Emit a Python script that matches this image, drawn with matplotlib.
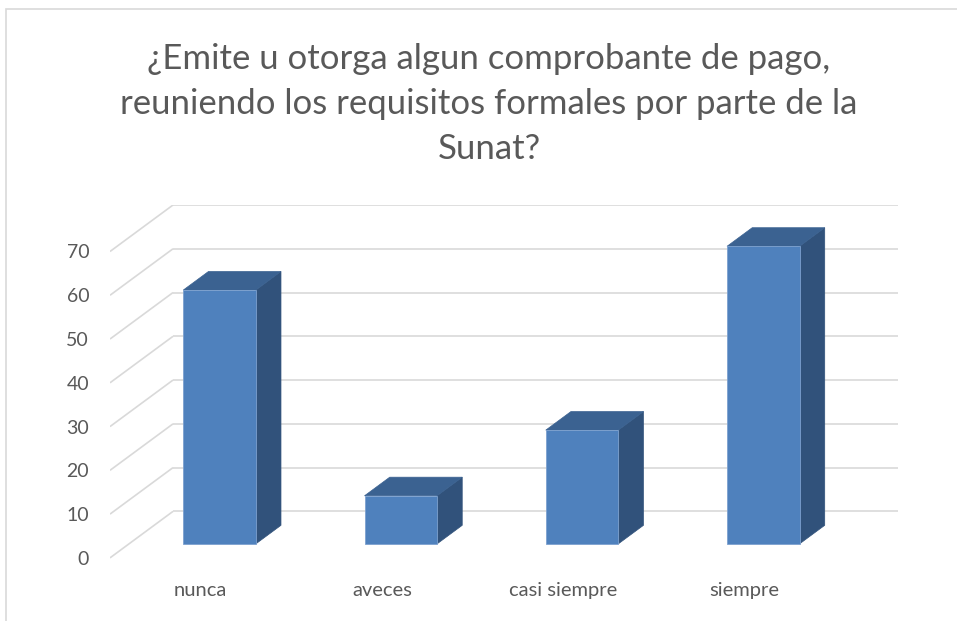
import numpy as np
import matplotlib.pyplot as plt
from matplotlib.patches import Rectangle, Polygon

plt.rcParams['font.family'] = ['Lato', 'DejaVu Sans']

# datos
categorias = ['nunca', 'aveces', 'casi siempre', 'siempre']
valores = [58, 11, 26, 68]
ticks_y = [0, 10, 20, 30, 40, 50, 60, 70]
titulo = '¿Emite u otorga algun comprobante de pago,\nreuniendo los requisitos formales por parte de la\nSunat?'

W, H = 957, 621
fig = plt.figure(figsize=(W / 100, H / 100), dpi=100)

# profundidad (pseudo 3D) en unidades de datos
dxd = 63 / 181.2
dyd = 46.5 / 4.377
ymin, ymax = -3, 70 + dyd
x0 = -0.5
x1 = len(categorias) - 0.5

ax = fig.add_axes([110 / W, (H - 571) / H, 788 / W, 366 / H])
ax.set_xlim(x0, x1 + dxd)
ax.set_ylim(ymin, ymax)
for s in ax.spines.values():
    s.set_visible(False)

gris = '#595959'
linea = '#d9d9d9'
# paredes: lineas de cuadricula
for v in ticks_y:
    ax.plot([x0, x0 + dxd], [v, v + dyd], color=linea, lw=1.2, zorder=1,
            solid_capstyle='butt')
    ax.plot([x0 + dxd, x1 + dxd], [v + dyd, v + dyd], color=linea, lw=1.2,
            zorder=1, solid_capstyle='butt')

# barras
ancho = 0.4
d0, d1 = 0.3, 0.7
frente = '#4f81bd'
arriba = '#3b6291'
lado = '#31527b'
for i, v in enumerate(valores):
    xl = i - ancho / 2 + d0 * dxd
    xr = xl + ancho
    yb = d0 * dyd
    yt = v + d0 * dyd
    ddx = (d1 - d0) * dxd
    ddy = (d1 - d0) * dyd
    ax.add_patch(Polygon([(xr, yb), (xr + ddx, yb + ddy), (xr + ddx, yt + ddy), (xr, yt)],
                         closed=True, fc=lado, ec=lado, lw=0.5, zorder=3))
    ax.add_patch(Polygon([(xl, yt), (xl + ddx, yt + ddy), (xr + ddx, yt + ddy), (xr, yt)],
                         closed=True, fc=arriba, ec=arriba, lw=0.5, zorder=3))
    ax.add_patch(Rectangle((xl, yb), ancho, v, fc=frente, ec='#7da1cf', lw=0.6, zorder=4))

ax.set_yticks(ticks_y)
ax.set_yticklabels([str(t) for t in ticks_y])
ax.set_xticks(range(len(categorias)))
ax.set_xticklabels(categorias)
ax.tick_params(axis='y', length=0, pad=15, labelsize=14, labelcolor=gris)
ax.tick_params(axis='x', length=0, pad=8, labelsize=14.5, labelcolor=gris)

fig.text(489 / W, 1 - 104 / H, titulo, ha='center', va='center', fontsize=25,
         color=gris, linespacing=1.5)

# borde del grafico
fig.patches.append(Rectangle((6 / W, -0.1), 1.2, 1 - 9 / H + 0.1, transform=fig.transFigure,
                             fill=False, ec=linea, lw=1.2))

fig.savefig('out.png', dpi=100)
